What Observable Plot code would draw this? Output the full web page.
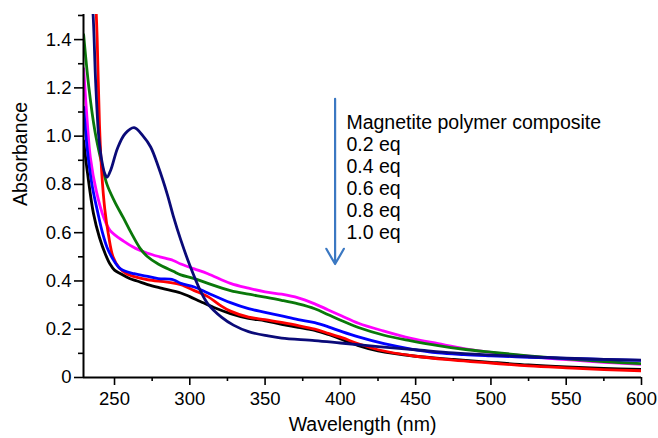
<!DOCTYPE html>
<html>
<head>
<meta charset="utf-8">
<script src="https://cdn.jsdelivr.net/npm/d3@7"></script>
<script src="https://cdn.jsdelivr.net/npm/@observablehq/plot@0.6"></script>
<style>
  html, body { margin: 0; padding: 0; background: #fff; }
  #chart svg { display: block; }
</style>
</head>
<body>
<div id="chart"></div>
<script>
// ---- Data (wavelength in nm, absorbance) ----
const seriesNames = ["Magnetite polymer composite", "0.2 eq", "0.4 eq", "0.6 eq", "0.8 eq", "1.0 eq"];
const seriesColors = ["#0a0a78", "#ff00ff", "#0a780a", "#0000ff", "#ff0000", "#000000"];

const compositeWl  = [234.5, 235.8, 237.5, 239.5, 241.5, 243.5, 245, 247.5, 252, 257, 263, 269, 274, 279, 285, 289, 294, 300, 307, 312, 321, 329, 339, 352, 361, 383, 400, 425, 450, 475, 500, 525, 550, 575, 600];
const compositeAbs = [1.6, 1.5, 1.22, 1.0, 0.9, 0.845, 0.83, 0.86, 0.95, 1.01, 1.035, 1.0, 0.955, 0.875, 0.76, 0.67, 0.57, 0.465, 0.36, 0.305, 0.25, 0.217, 0.19, 0.172, 0.163, 0.153, 0.143, 0.128, 0.115, 0.102, 0.093, 0.086, 0.08, 0.075, 0.072];

const eq02Wl  = [229.5, 232, 234, 238, 243, 247, 256, 264, 272, 280, 289, 294, 303, 312, 327, 339, 350, 361, 372, 383, 392, 401, 412, 429, 447, 465, 482, 500, 525, 550, 575, 600];
const eq02Abs = [1.28, 1.05, 0.91, 0.77, 0.66, 0.61, 0.565, 0.535, 0.515, 0.5, 0.485, 0.47, 0.45, 0.43, 0.39, 0.37, 0.355, 0.345, 0.33, 0.305, 0.28, 0.255, 0.225, 0.192, 0.162, 0.14, 0.12, 0.104, 0.088, 0.074, 0.063, 0.054];

const eq04Wl  = [229.5, 233, 237, 241, 245, 250, 256, 261, 267, 272, 279, 289, 294, 303, 312, 327, 339, 350, 361, 372, 383, 392, 401, 412, 429, 447, 465, 482, 500, 525, 550, 575, 600];
const eq04Abs = [1.42, 1.2, 1.02, 0.9, 0.8, 0.73, 0.66, 0.6, 0.535, 0.5, 0.47, 0.44, 0.425, 0.41, 0.39, 0.36, 0.345, 0.333, 0.32, 0.305, 0.285, 0.26, 0.235, 0.207, 0.175, 0.152, 0.132, 0.117, 0.105, 0.09, 0.077, 0.066, 0.057];

const eq06Wl  = [229.5, 232, 235, 239, 242, 245, 249, 254, 263, 271, 279, 289, 294, 303, 312, 327, 339, 350, 361, 372, 383, 392, 401, 412, 429, 447, 465, 482, 500, 525, 550, 575, 600];
const eq06Abs = [1.12, 0.94, 0.8, 0.68, 0.6, 0.54, 0.49, 0.45, 0.43, 0.42, 0.41, 0.405, 0.39, 0.375, 0.35, 0.31, 0.285, 0.27, 0.255, 0.24, 0.227, 0.21, 0.19, 0.168, 0.14, 0.118, 0.102, 0.095, 0.09, 0.084, 0.079, 0.075, 0.071];

const eq08Wl  = [237.3, 238.5, 240, 241.5, 243.5, 246, 249, 253, 258, 265, 272, 285, 294, 303, 312, 320, 327, 339, 350, 361, 372, 383, 392, 401, 412, 425, 450, 475, 500, 525, 550, 575, 600];
const eq08Abs = [1.6, 1.4, 1.05, 0.85, 0.7, 0.59, 0.5, 0.455, 0.43, 0.415, 0.405, 0.395, 0.385, 0.36, 0.335, 0.3, 0.275, 0.25, 0.24, 0.228, 0.215, 0.2, 0.183, 0.165, 0.14, 0.115, 0.088, 0.072, 0.06, 0.048, 0.04, 0.033, 0.028];

const eq10Wl  = [229.5, 232, 236, 240, 244, 247, 250, 254, 260, 265, 272, 281, 294, 300, 307, 316, 327, 339, 350, 361, 372, 383, 392, 401, 412, 425, 450, 475, 500, 525, 550, 575, 600];
const eq10Abs = [0.98, 0.85, 0.68, 0.58, 0.51, 0.47, 0.445, 0.43, 0.41, 0.4, 0.385, 0.37, 0.35, 0.335, 0.315, 0.29, 0.265, 0.245, 0.235, 0.22, 0.208, 0.195, 0.178, 0.158, 0.132, 0.11, 0.088, 0.075, 0.063, 0.052, 0.044, 0.038, 0.033];

// ---- Axes ----
const xMajorTicks = [250, 300, 350, 400, 450, 500, 550, 600];
const xMinorTicks = [275, 325, 375, 425, 475, 525, 575];
const yMajorTicks = [0, 0.2, 0.4, 0.6, 0.8, 1.0, 1.2, 1.4];
const yMinorTicks = [0.1, 0.3, 0.5, 0.7, 0.9, 1.1, 1.3, 1.5];
const xDomain = [229.4, 600];
const yDomain = [0, 1.504];
const xLabel = "Wavelength (nm)";
const yLabel = "Absorbance";

// ---- Annotation (arrow + legend text), in data coordinates ----
const arrowData = [{x: 396.5, yTop: 1.155, yBottom: 0.47}];
const legendText = [{x: 404, y: 0.83, text: seriesNames.join("\n")}];

// Build a tidy table for the lines (drawing order: 0.2, 0.4, 1.0, 0.8, 0.6, composite)
const series = [
  {name: seriesNames[1], wl: eq02Wl, abs: eq02Abs, color: seriesColors[1]},
  {name: seriesNames[2], wl: eq04Wl, abs: eq04Abs, color: seriesColors[2]},
  {name: seriesNames[5], wl: eq10Wl, abs: eq10Abs, color: seriesColors[5]},
  {name: seriesNames[4], wl: eq08Wl, abs: eq08Abs, color: seriesColors[4]},
  {name: seriesNames[3], wl: eq06Wl, abs: eq06Abs, color: seriesColors[3]},
  {name: seriesNames[0], wl: compositeWl, abs: compositeAbs, color: seriesColors[0]}
];

const font = "'Liberation Sans', Arial, Helvetica, sans-serif";

const plot = Plot.plot({
  width: 658,
  height: 438,
  marginLeft: 83,
  marginRight: 17,
  marginTop: 14,
  marginBottom: 61,
  style: {fontFamily: font, background: "#fff", color: "#000"},
  x: {domain: xDomain},
  y: {domain: yDomain},
  marks: [
    ...series.map(s => Plot.line(s.wl.map((w, i) => ({w, a: s.abs[i]})), {
      x: "w", y: "a", stroke: s.color, strokeWidth: 2.8, curve: "catmull-rom", clip: true
    })),
    // minor ticks
    Plot.axisX({ticks: xMinorTicks, tickSize: 4, tickFormat: () => "", strokeWidth: 1.6}),
    Plot.axisY({ticks: yMinorTicks, tickSize: 5, tickFormat: () => "", strokeWidth: 1.6}),
    // major ticks
    Plot.axisX({ticks: xMajorTicks, tickSize: 8, tickPadding: 6, fontSize: 18.5, label: null, strokeWidth: 1.6}),
    Plot.axisY({ticks: yMajorTicks, tickSize: 9, tickPadding: 3, fontSize: 18.5, label: null, strokeWidth: 1.6,
      tickFormat: d => d === 0 ? "0" : d.toFixed(1)}),
    // axis lines
    Plot.ruleX([xDomain[0]], {stroke: "#000", strokeWidth: 2}),
    Plot.ruleY([0], {stroke: "#000", strokeWidth: 2}),
    // axis titles
    Plot.text([xLabel], {frameAnchor: "bottom", dy: 47, fontSize: 19.5, lineAnchor: "middle", fill: "#000"}),
    Plot.text([yLabel], {frameAnchor: "left", dx: -63, dy: 10, rotate: -90, fontSize: 19.5, lineAnchor: "middle", fill: "#000"}),
    // annotation arrow
    Plot.arrow(arrowData, {x1: "x", x2: "x", y1: "yTop", y2: "yBottom", stroke: "#3b78c2", strokeWidth: 2.2, headLength: 12}),
    // annotation legend text
    Plot.text(legendText, {x: "x", y: "y", text: "text", textAnchor: "start", lineAnchor: "middle",
      fontSize: 19.5, lineHeight: 1.13, fill: "#000"})
  ]
});

document.getElementById("chart").appendChild(plot);
</script>
</body>
</html>
